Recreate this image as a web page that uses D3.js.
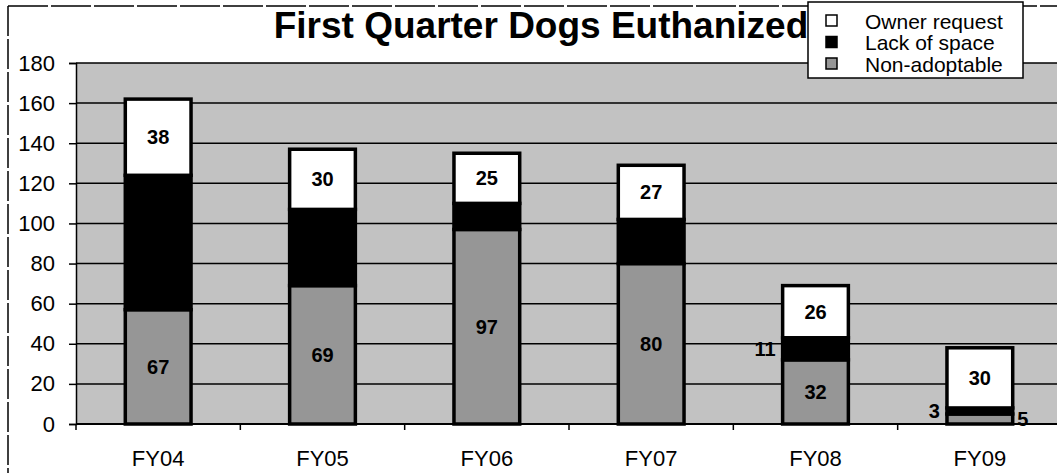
<!DOCTYPE html>
<meta charset="utf-8">
<script src="https://d3js.org/d3.v7.min.js"></script>
<style>
  body { margin: 0; background: #fff; }
  text { font-family: "Liberation Sans", Arial, sans-serif; }
</style>
<div id="chart"></div>
<script>

// data
var years = ["FY04", "FY05", "FY06", "FY07", "FY08", "FY09"];
var nonAdoptable = [57, 69, 97, 80, 32, 5];
var lackOfSpace = [67, 38, 13, 22, 11, 3];
var ownerRequest = [38, 30, 25, 27, 26, 30];
var yTicks = [0, 20, 40, 60, 80, 100, 120, 140, 160, 180];
// labels as printed on the chart (blank = not shown)
var nonLabels = ["67", "69", "97", "80", "32", "5"];
var lackLabels = ["", "", "", "", "11", "3"];

var W = 1057, H = 473;
var plot = {left: 76, top: 63, right: 1062, bottom: 424};

var svg = d3.select("#chart").append("svg")
    .attr("width", W)
    .attr("height", H);

// chart frame
svg.append("line").attr("x1", 8).attr("x2", W).attr("y1", 6).attr("y2", 6)
    .attr("stroke", "#000").attr("stroke-width", 1.5).attr("stroke-dasharray", "40,3");
svg.append("line").attr("x1", 8).attr("x2", 8).attr("y1", 6).attr("y2", H)
    .attr("stroke", "#000").attr("stroke-width", 1.5).attr("stroke-dasharray", "30,3");

var x = d3.scaleBand()
    .domain(years)
    .range([plot.left, plot.right])
    .paddingInner(0.6)
    .paddingOuter(0.3);

var y = d3.scaleLinear()
    .domain([0, 180])
    .range([plot.bottom, plot.top]);

// plot background
svg.append("rect")
    .attr("x", plot.left).attr("y", plot.top)
    .attr("width", plot.right - plot.left).attr("height", plot.bottom - plot.top)
    .attr("fill", "#c2c2c2");

// gridlines
svg.append("g").selectAll("line")
  .data(yTicks.slice(1))
  .enter().append("line")
    .attr("x1", plot.left).attr("x2", plot.right)
    .attr("y1", function(d) { return y(d); })
    .attr("y2", function(d) { return y(d); })
    .attr("stroke", "#000").attr("stroke-width", 1.5);

// y axis
var yAxis = svg.append("g")
    .attr("transform", "translate(" + plot.left + ",0)")
    .call(d3.axisLeft(y).tickValues(yTicks).tickSize(7).tickPadding(14));
yAxis.selectAll("text").attr("font-size", 22).attr("fill", "#000")
    .style("font-family", "'Liberation Sans', Arial, sans-serif");
yAxis.selectAll("line, path").attr("stroke", "#000").attr("stroke-width", 1.5);

// x axis: ticks between categories
var xg = svg.append("g");
xg.append("line")
    .attr("x1", plot.left).attr("x2", plot.right)
    .attr("y1", plot.bottom).attr("y2", plot.bottom)
    .attr("stroke", "#000").attr("stroke-width", 2);
var bounds = years.map(function(d) { return x(d) - x.step() * x.paddingOuter(); });
xg.selectAll(".xt").data(bounds).enter().append("line")
    .attr("x1", function(d) { return d; }).attr("x2", function(d) { return d; })
    .attr("y1", plot.bottom).attr("y2", plot.bottom + 6)
    .attr("stroke", "#000").attr("stroke-width", 1.5);
xg.selectAll(".xl").data(years).enter().append("text")
    .attr("x", function(d) { return x(d) + x.bandwidth() / 2; })
    .attr("y", 466)
    .attr("text-anchor", "middle")
    .attr("font-size", 22)
    .text(function(d) { return d; });

// stacked bars
var rows = years.map(function(d, i) {
  return {year: d, non: nonAdoptable[i], lack: lackOfSpace[i], owner: ownerRequest[i]};
});
var keys = ["non", "lack", "owner"];
var fills = {non: "#969696", lack: "#000", owner: "#fff"};
var series = d3.stack().keys(keys)(rows);

svg.append("g").selectAll("g")
  .data(series)
  .enter().append("g")
    .attr("fill", function(d) { return fills[d.key]; })
  .selectAll("rect")
  .data(function(d) { return d; })
  .enter().append("rect")
    .attr("x", function(d) { return x(d.data.year); })
    .attr("width", x.bandwidth())
    .attr("y", function(d) { return y(d[1]); })
    .attr("height", function(d) { return y(d[0]) - y(d[1]); })
    .attr("stroke", "#000")
    .attr("stroke-width", 3.5);

// value labels
var lab = svg.append("g")
    .attr("font-size", 20).attr("font-weight", "bold")
    .attr("dominant-baseline", "central");

lab.selectAll(".own").data(rows).enter().append("text")
    .attr("x", function(d) { return x(d.year) + x.bandwidth() / 2; })
    .attr("y", function(d) { return y(d.non + d.lack + d.owner / 2); })
    .attr("text-anchor", "middle")
    .text(function(d) { return d.owner; });

lab.selectAll(".non").data(rows).enter().append("text")
    .attr("x", function(d, i) {
      return i < 5 ? x(d.year) + x.bandwidth() / 2 : x(d.year) + x.bandwidth() + 10;
    })
    .attr("y", function(d) { return y(d.non / 2); })
    .attr("text-anchor", "middle")
    .text(function(d, i) { return nonLabels[i]; });

lab.selectAll(".lack").data(rows).enter().append("text")
    .attr("x", function(d) { return x(d.year) - 7; })
    .attr("y", function(d) { return y(d.non + d.lack / 2); })
    .attr("text-anchor", "end")
    .text(function(d, i) { return lackLabels[i]; });

// title
svg.append("text")
    .attr("x", 541).attr("y", 38)
    .attr("text-anchor", "middle")
    .attr("font-size", 37).attr("font-weight", "bold")
    .text("First Quarter Dogs Euthanized");

// legend
var legendItems = [
  {name: "Owner request", key: "owner"},
  {name: "Lack of space", key: "lack"},
  {name: "Non-adoptable", key: "non"}
];
var lg = svg.append("g").attr("transform", "translate(808,2)");
lg.append("rect").attr("width", 215).attr("height", 76)
    .attr("fill", "#fff").attr("stroke", "#000").attr("stroke-width", 1.5);
var li = lg.selectAll(".li").data(legendItems).enter().append("g")
    .attr("transform", function(d, i) { return "translate(0," + (19 + i * 21.5) + ")"; });
li.append("rect").attr("x", 18).attr("y", -6).attr("width", 11).attr("height", 11)
    .attr("fill", function(d) { return fills[d.key]; })
    .attr("stroke", "#000").attr("stroke-width", 1.5);
li.append("text").attr("x", 57).attr("y", 0)
    .attr("dominant-baseline", "central")
    .attr("font-size", 21)
    .text(function(d) { return d.name; });

</script>
